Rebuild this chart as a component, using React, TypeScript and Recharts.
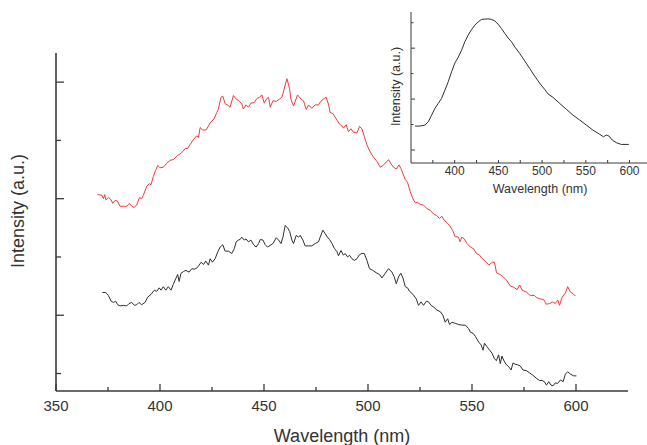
import React from "react";
import { LineChart, Line, XAxis, YAxis, Label } from "recharts";

// ---------- data ----------
const redNm = [369.9,372.0,372.8,373.4,374.0,375.2,376.3,377.3,378.4,379.5,380.8,382.4,384.0,385.3,386.4,387.5,388.8,390.1,391.2,392.0,393.6,394.9,395.7,396.8,397.8,398.9,400.0,401.6,403.3,404.9,406.4,407.6,408.4,409.7,411.0,412.1,413.2,414.5,416.0,417.7,418.5,419.3,420.5,422.2,424.1,426.0,427.3,428.1,429.3,430.2,431.3,432.4,433.7,435.3,436.6,438.2,439.3,440.1,441.4,442.5,443.7,445.3,446.6,447.8,449.0,450.1,451.4,452.2,453.0,454.3,455.9,457.5,458.6,459.7,461.0,462.3,462.9,464.2,466.1,467.8,469.0,470.3,471.4,473.0,474.6,476.2,477.3,478.6,479.9,481.0,481.8,483.1,484.7,486.3,487.4,488.2,489.5,490.6,491.8,493.0,494.7,495.9,497.1,498.2,499.5,501.1,502.7,504.3,505.9,507.2,508.8,509.9,511.0,512.3,513.6,514.9,515.8,516.8,517.9,519.0,520.3,521.6,522.7,523.8,525.1,526.7,528.3,529.9,531.5,533.1,534.4,535.5,536.6,537.9,539.2,540.8,541.9,543.5,544.3,545.1,546.3,547.6,549.2,550.8,552.1,553.7,554.9,556.4,558.1,559.7,560.8,561.8,563.4,565.0,566.6,568.5,570.1,571.7,572.9,574.1,576.1,578.0,580.0,581.2,582.8,584.4,585.7,587.3,588.9,590.0,591.2,592.1,593.3,594.9,596.0,597.3,598.6,599.7];
const redIntensity = [4.07,4.06,4.00,4.07,3.98,4.02,3.99,3.92,3.97,3.96,3.87,3.87,3.87,3.92,3.87,3.85,3.89,4.02,4.00,4.06,4.21,4.26,4.24,4.38,4.48,4.57,4.53,4.54,4.61,4.66,4.67,4.71,4.74,4.77,4.81,4.86,4.86,4.93,5.01,5.08,5.05,5.22,5.18,5.18,5.30,5.37,5.48,5.54,5.74,5.76,5.63,5.61,5.57,5.77,5.71,5.67,5.63,5.54,5.61,5.57,5.64,5.65,5.72,5.74,5.78,5.64,5.72,5.74,5.57,5.68,5.67,5.71,5.74,5.88,6.06,5.89,5.71,5.59,5.78,5.71,5.68,5.53,5.61,5.55,5.61,5.61,5.67,5.71,5.74,5.62,5.48,5.46,5.37,5.28,5.25,5.21,5.27,5.15,5.20,5.14,5.13,5.24,5.20,5.07,4.92,4.80,4.71,4.64,4.54,4.57,4.63,4.67,4.60,4.54,4.51,4.58,4.52,4.43,4.33,4.28,4.12,4.00,3.93,3.94,3.90,3.89,3.83,3.80,3.74,3.71,3.66,3.70,3.63,3.59,3.54,3.45,3.35,3.34,3.26,3.34,3.31,3.23,3.17,3.14,3.06,3.03,2.97,2.93,2.86,2.91,2.91,2.73,2.70,2.66,2.60,2.50,2.48,2.44,2.52,2.43,2.40,2.34,2.34,2.30,2.28,2.27,2.19,2.20,2.23,2.20,2.26,2.17,2.31,2.38,2.49,2.40,2.37,2.33];

const blackNm = [372.3,373.9,375.2,376.5,377.6,378.7,379.7,380.8,382.4,384.0,385.1,386.4,387.7,388.8,389.9,391.2,392.8,394.1,395.7,397.3,398.4,399.6,400.5,401.6,402.8,404.0,405.3,406.4,407.6,408.5,409.2,410.1,411.3,412.4,414.0,415.3,416.5,417.7,418.8,419.8,420.9,422.0,423.3,424.1,425.2,426.5,427.8,428.9,430.2,431.3,432.9,434.5,435.7,436.6,437.7,438.5,439.3,440.5,441.4,442.5,443.7,445.0,446.2,447.4,448.2,449.5,450.6,451.7,453.0,454.3,455.9,457.0,458.2,459.1,460.2,461.3,462.3,463.4,464.2,465.5,466.6,467.4,468.7,469.8,471.4,473.0,474.6,476.2,477.0,478.3,479.4,480.5,481.5,482.7,483.8,485.1,485.8,487.0,488.2,489.0,490.2,491.1,492.3,493.4,494.7,495.9,497.1,498.2,499.5,500.7,502.3,503.9,505.5,506.7,508.3,509.9,511.5,512.6,513.6,514.7,515.8,516.8,517.9,519.0,520.0,521.6,523.2,524.3,525.5,526.7,528.0,529.1,530.3,531.6,533.1,534.8,536.0,537.1,538.3,539.2,540.4,542.0,543.6,545.2,546.8,548.4,549.2,550.5,551.6,553.2,554.4,555.3,556.0,557.2,558.5,559.6,560.7,561.7,562.8,563.6,564.4,565.2,566.5,567.6,568.8,569.7,570.8,571.9,573.2,574.5,576.1,577.7,579.3,580.9,582.5,583.7,584.8,585.8,586.9,588.0,589.0,590.1,591.2,592.5,593.8,594.9,596.0,597.3,598.9,600.2];
const blackIntensity = [2.39,2.39,2.34,2.24,2.22,2.24,2.18,2.16,2.17,2.16,2.20,2.22,2.17,2.18,2.22,2.18,2.22,2.31,2.36,2.43,2.41,2.47,2.43,2.49,2.43,2.49,2.43,2.53,2.63,2.70,2.58,2.72,2.75,2.77,2.74,2.80,2.79,2.81,2.86,2.91,2.87,2.93,2.86,2.97,2.91,2.97,3.09,3.17,3.21,3.10,3.10,3.06,3.14,3.26,3.29,3.30,3.34,3.29,3.31,3.26,3.29,3.21,3.17,3.23,3.30,3.29,3.21,3.17,3.20,3.23,3.33,3.29,3.23,3.34,3.54,3.50,3.44,3.29,3.23,3.37,3.34,3.37,3.29,3.19,3.19,3.19,3.23,3.26,3.34,3.46,3.40,3.34,3.30,3.23,3.15,3.09,3.02,3.11,3.03,3.06,3.00,3.03,2.97,2.94,2.97,3.04,3.06,3.06,2.94,2.80,2.77,2.73,2.70,2.64,2.72,2.80,2.74,2.66,2.54,2.66,2.72,2.64,2.49,2.47,2.41,2.36,2.28,2.17,2.23,2.17,2.24,2.23,2.17,2.14,2.09,2.06,2.00,1.88,1.94,1.84,1.88,1.86,1.84,1.83,1.83,1.77,1.71,1.69,1.64,1.54,1.49,1.40,1.52,1.46,1.40,1.35,1.26,1.22,1.32,1.17,1.30,1.23,1.15,1.12,1.06,1.18,1.16,1.15,1.13,1.06,1.05,1.01,0.97,0.92,0.88,0.88,0.86,0.80,0.86,0.80,0.79,0.84,0.83,0.89,0.86,0.99,1.03,0.99,0.96,0.96];

const insetNm = [354.6,360.3,366.0,369.8,373.6,377.4,381.2,385.0,388.8,392.6,396.4,400.2,404.0,407.9,411.6,415.4,419.3,423.0,426.8,430.7,434.5,438.2,442.1,445.9,449.7,453.5,457.3,461.1,465.0,468.7,474.4,480.1,485.8,491.6,497.3,503.0,506.8,512.4,520.1,527.7,535.3,542.9,550.6,558.1,565.8,570.3,573.4,576.4,580.3,584.8,590.5,599.2];
const insetIntensity = [1.94,1.94,1.98,2.11,2.37,2.64,2.83,3.03,3.35,3.68,4.07,4.42,4.64,4.92,5.25,5.51,5.73,5.90,6.03,6.13,6.14,6.15,6.13,6.07,5.94,5.77,5.58,5.40,5.25,5.05,4.79,4.50,4.20,3.90,3.62,3.38,3.20,3.07,2.83,2.60,2.37,2.18,1.98,1.78,1.62,1.52,1.59,1.55,1.39,1.29,1.22,1.22];

const mainXTicks = [350, 375, 400, 425, 450, 475, 500, 525, 550, 575, 600];
const mainYTicks = [1, 2, 3, 4, 5, 6];
const insetXTicks = [375, 400, 425, 450, 475, 500, 525, 550, 575, 600];
const insetYTicks = [1, 2, 3, 4, 5, 6];

const zip = (xs: number[], ys: number[]) => xs.map((nm, i) => ({ nm, i: ys[i] }));
const redData = zip(redNm, redIntensity);
const blackData = zip(blackNm, blackIntensity);
const insetData = zip(insetNm, insetIntensity);

// ---------- styles ----------
const FONT = '"Liberation Sans", Arial, Helvetica, sans-serif';
const AXIS = "#3a3a3a";
const TEXT = "#333333";
const RED = "#f23a3a";
const BLACK = "#2e2e2e";

const MainXTick = (props: any) => {
  const { x, y, payload } = props;
  const major = payload.value % 50 === 0;
  return (
    <g>
      <line x1={x} x2={x} y1={y} y2={y - (major ? 7 : 4)} stroke={AXIS} strokeWidth={1.3} />
      {major && (
        <text x={x} y={y + 20} textAnchor="middle" fontSize={15} fill={TEXT} fontFamily={FONT}>
          {payload.value}
        </text>
      )}
    </g>
  );
};

const MainYTick = (props: any) => {
  const { x, y, payload } = props;
  const major = payload.value % 2 === 0;
  return <line x1={x} x2={x + (major ? 8 : 5)} y1={y} y2={y} stroke={AXIS} strokeWidth={1.3} />;
};

const InsetXTick = (props: any) => {
  const { x, y, payload } = props;
  const major = payload.value % 50 === 0;
  return (
    <g>
      <line x1={x} x2={x} y1={y} y2={y - 3} stroke={AXIS} strokeWidth={1} />
      {major && (
        <text x={x} y={y + 12} textAnchor="middle" fontSize={12} fill={TEXT} fontFamily={FONT}>
          {payload.value}
        </text>
      )}
    </g>
  );
};

const InsetYTick = (props: any) => {
  const { x, y, payload } = props;
  const major = payload.value % 2 === 1;
  return <line x1={x} x2={x + (major ? 4 : 2.5)} y1={y} y2={y} stroke={AXIS} strokeWidth={1} />;
};

export default function App() {
  return (
    <div
      style={{
        position: "absolute",
        left: 0,
        top: 0,
        width: 647,
        height: 445,
        background: "#ffffff",
        fontFamily: FONT,
      }}
    >
      <LineChart width={647} height={445} margin={{ top: 53, right: 19, bottom: 0, left: 0 }}>
        <XAxis
          type="number"
          dataKey="nm"
          domain={[350, 625]}
          ticks={mainXTicks}
          interval={0}
          allowDataOverflow
          height={54}
          tickSize={0}
          tickMargin={0}
          tickLine={false}
          tick={MainXTick}
          axisLine={{ stroke: AXIS, strokeWidth: 1.6 }}
        >
          <Label
            content={({ viewBox }: any) => (
              <text
                x={viewBox.x + viewBox.width / 2}
                y={viewBox.y + 51}
                textAnchor="middle"
                fontSize={18}
                fill={TEXT}
                fontFamily={FONT}
              >
                Wavelength (nm)
              </text>
            )}
          />
        </XAxis>
        <YAxis
          type="number"
          domain={[0.7, 6.5]}
          ticks={mainYTicks}
          interval={0}
          allowDataOverflow
          width={56}
          tickSize={0}
          tickMargin={0}
          tickLine={false}
          tick={MainYTick}
          axisLine={{ stroke: AXIS, strokeWidth: 1.6 }}
        >
          <Label
            content={({ viewBox }: any) => {
              const cx = 24;
              const cy = viewBox.y + viewBox.height / 2 - 11;
              return (
                <text
                  x={cx}
                  y={cy}
                  transform={`rotate(-90, ${cx}, ${cy})`}
                  textAnchor="middle"
                  fontSize={18}
                  fill={TEXT}
                  fontFamily={FONT}
                >
                  Intensity (a.u.)
                </text>
              );
            }}
          />
        </YAxis>
        <Line
          data={redData}
          dataKey="i"
          type="linear"
          stroke={RED}
          strokeWidth={1}
          dot={false}
          isAnimationActive={false}
        />
        <Line
          data={blackData}
          dataKey="i"
          type="linear"
          stroke={BLACK}
          strokeWidth={1}
          dot={false}
          isAnimationActive={false}
        />
      </LineChart>

      <div style={{ position: "absolute", left: 360, top: 0 }}>
        <LineChart width={287} height={200} margin={{ top: 12, right: 0, bottom: 0, left: 0 }}>
          <XAxis
            type="number"
            dataKey="nm"
            domain={[350, 620]}
            ticks={insetXTicks}
            interval={0}
            allowDataOverflow
            height={37}
            tickSize={0}
            tickMargin={0}
            tickLine={false}
            tick={InsetXTick}
            axisLine={{ stroke: AXIS, strokeWidth: 1 }}
          >
            <Label
              content={({ viewBox }: any) => (
                <text
                  x={viewBox.x + viewBox.width / 2 + 11}
                  y={viewBox.y + 29.5}
                  textAnchor="middle"
                  fontSize={12.5}
                  fill={TEXT}
                  fontFamily={FONT}
                >
                  Wavelength (nm)
                </text>
              )}
            />
          </XAxis>
          <YAxis
            type="number"
            domain={[0.49, 6.42]}
            ticks={insetYTicks}
            interval={0}
            allowDataOverflow
            width={51}
            tickSize={0}
            tickMargin={0}
            tickLine={false}
            tick={InsetYTick}
            axisLine={{ stroke: AXIS, strokeWidth: 1 }}
          >
            <Label
              content={({ viewBox }: any) => {
                const cx = 40;
                const cy = viewBox.y + viewBox.height / 2 - 1;
                return (
                  <text
                    x={cx}
                    y={cy}
                    transform={`rotate(-90, ${cx}, ${cy})`}
                    textAnchor="middle"
                    fontSize={12.5}
                    fill={TEXT}
                    fontFamily={FONT}
                  >
                    Intensity (a.u.)
                  </text>
                );
              }}
            />
          </YAxis>
          <Line
            data={insetData}
            dataKey="i"
            type="linear"
            stroke={BLACK}
            strokeWidth={1}
            dot={false}
            isAnimationActive={false}
          />
        </LineChart>
      </div>
    </div>
  );
}
